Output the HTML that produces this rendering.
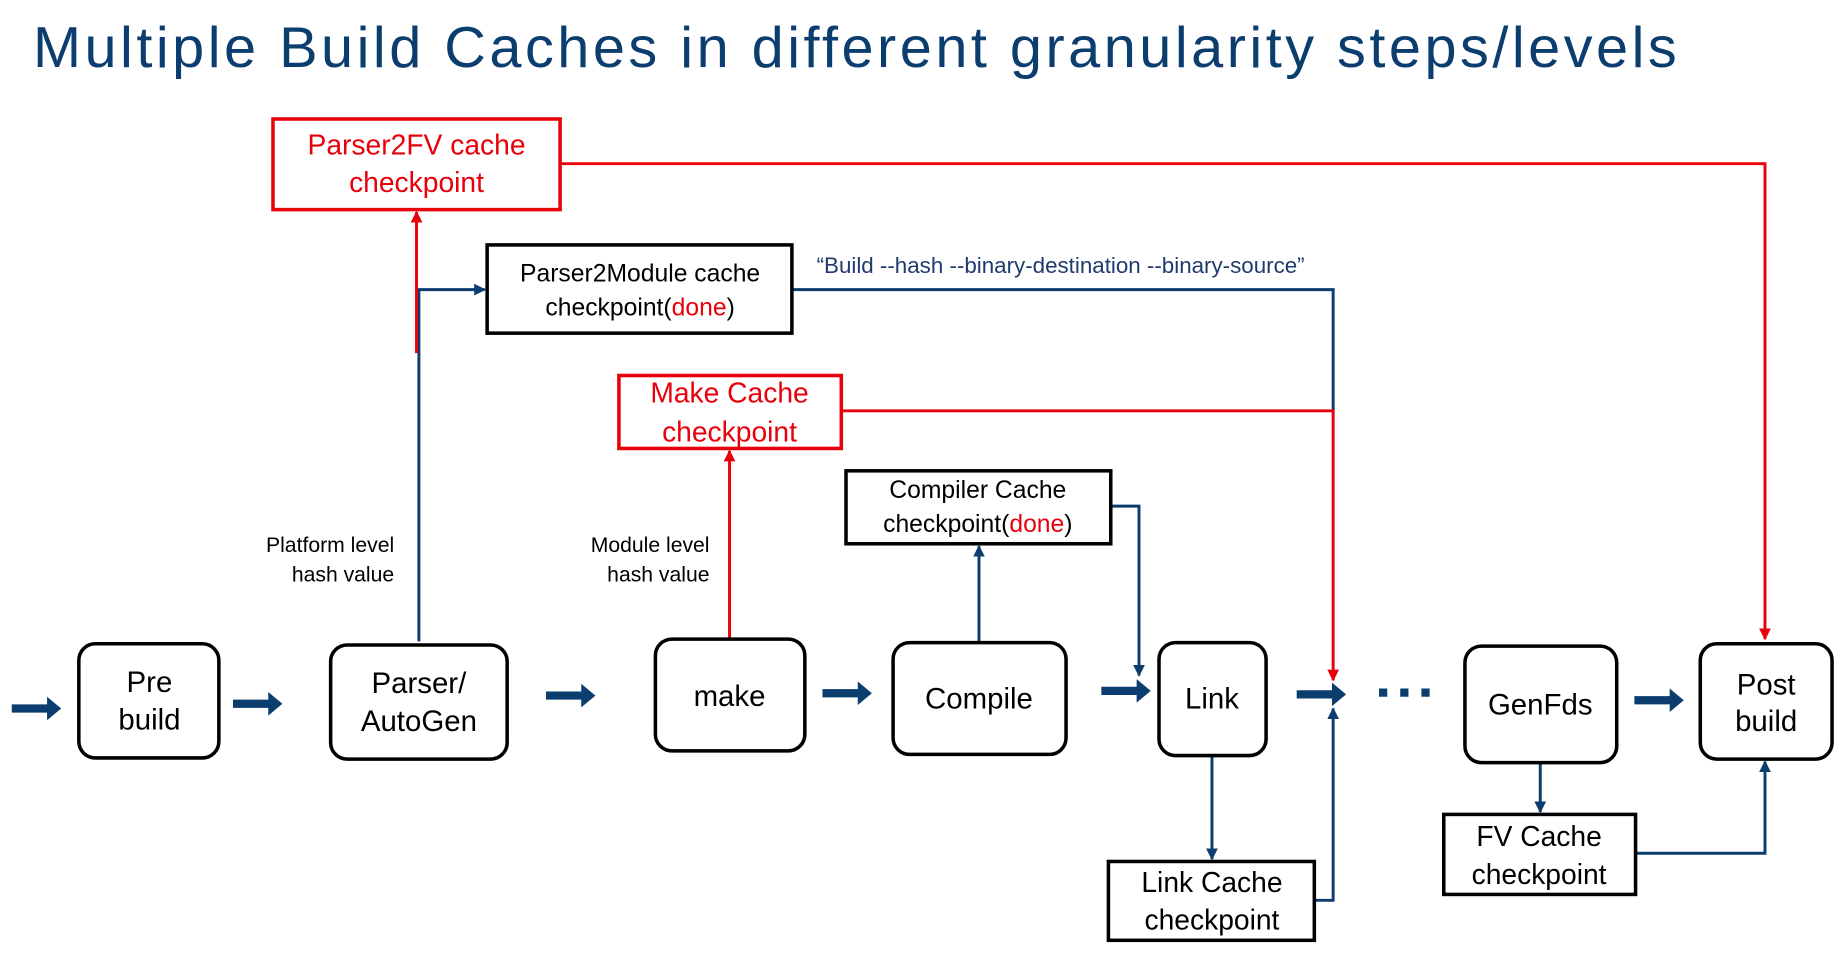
<!DOCTYPE html>
<html><head><meta charset="utf-8"><style>
html,body{margin:0;padding:0;background:#fff;}
svg{display:block;}
text{font-family:"Liberation Sans","DejaVu Sans",sans-serif;}
</style></head><body>
<svg width="1845" height="964" viewBox="0 0 1568 819" xmlns="http://www.w3.org/2000/svg">
<defs>
<marker id="ab" viewBox="0 0 10 10" refX="9" refY="5" markerWidth="4" markerHeight="4" orient="auto-start-reverse"><path d="M0,0 L10,5 L0,10 z" fill="#0b3d6e"/></marker>
<marker id="ar" viewBox="0 0 10 10" refX="9" refY="5" markerWidth="4" markerHeight="4" orient="auto-start-reverse"><path d="M0,0 L10,5 L0,10 z" fill="#e8000b"/></marker>
<g id="blk"><path d="M0,-3.5 H30 V-10 L42,0 L30,10 V3.5 H0 z" fill="#0b3d6e"/></g>
</defs>
<text x="28" y="57" font-size="49" fill="#0b3d6e" textLength="1397">Multiple Build Caches in different granularity steps/levels</text>

<!-- connectors -->
<g fill="none" stroke="#0b3d6e" stroke-width="2.5">
<path d="M356,545 V246 H412" marker-end="url(#ab)"/>
<path d="M673,246 H1133 V350"/>
<path d="M832,545 V464" marker-end="url(#ab)"/>
<path d="M944,430 H968 V574" marker-end="url(#ab)"/>
<path d="M1030,642 V730" marker-end="url(#ab)"/>
<path d="M1117,765 H1133 V602" marker-end="url(#ab)"/>
<path d="M1309,648 V690" marker-end="url(#ab)"/>
<path d="M1390,725 H1500 V647" marker-end="url(#ab)"/>
</g>
<g fill="none" stroke="#e8000b" stroke-width="2.5">
<path d="M476,139 H1500 V543" marker-end="url(#ar)"/>
<path d="M354,300 V180" marker-end="url(#ar)"/>
<path d="M715,349 H1133 V578" marker-end="url(#ar)"/>
<path d="M620,543 V383" marker-end="url(#ar)"/>
</g>

<!-- cache boxes -->
<g fill="#fff" stroke-width="3">
<rect x="232" y="101" width="244" height="77" stroke="#e8000b"/>
<rect x="414" y="208" width="259" height="75" stroke="#000"/>
<rect x="526" y="319" width="189" height="62" stroke="#e8000b"/>
<rect x="719" y="400" width="225" height="62" stroke="#000"/>
<rect x="942" y="732" width="175" height="67" stroke="#000"/>
<rect x="1227" y="692" width="163" height="68" stroke="#000"/>
</g>
<g font-size="24" text-anchor="middle" fill="#e8000b">
<text x="354" y="131">Parser2FV cache</text>
<text x="354" y="163">checkpoint</text>
<text x="620" y="342">Make Cache</text>
<text x="620" y="375">checkpoint</text>
</g>
<g font-size="21" text-anchor="middle" fill="#000">
<text x="544" y="239">Parser2Module cache</text>
<text x="544" y="268">checkpoint(<tspan fill="#e8000b">done</tspan>)</text>
<text x="831" y="423">Compiler Cache</text>
<text x="831" y="452">checkpoint(<tspan fill="#e8000b">done</tspan>)</text>
</g>
<g font-size="24" text-anchor="middle" fill="#000">
<text x="1030" y="758">Link Cache</text>
<text x="1030" y="790">checkpoint</text>
<text x="1308" y="719">FV Cache</text>
<text x="1308" y="751">checkpoint</text>
</g>
<text x="694" y="232" font-size="19" fill="#1f3b6e">“Build --hash --binary-destination --binary-source”</text>
<g font-size="18" text-anchor="end" fill="#000">
<text x="335" y="469">Platform level</text>
<text x="335" y="494">hash value</text>
<text x="603" y="469">Module level</text>
<text x="603" y="494">hash value</text>
</g>

<!-- main boxes -->
<g fill="#fff" stroke="#000" stroke-width="3">
<rect x="67" y="547" width="119" height="97" rx="14"/>
<rect x="281" y="548" width="150" height="97" rx="14"/>
<rect x="557" y="543" width="127" height="95" rx="14"/>
<rect x="759" y="546" width="147" height="95" rx="14"/>
<rect x="985" y="546" width="91" height="96" rx="14"/>
<rect x="1245" y="549" width="129" height="99" rx="14"/>
<rect x="1445" y="547" width="112" height="98" rx="14"/>
</g>
<g font-size="25" text-anchor="middle" fill="#000">
<text x="127" y="588">Pre</text><text x="127" y="620">build</text>
<text x="356" y="589">Parser/</text><text x="356" y="621">AutoGen</text>
<text x="620" y="600">make</text>
<text x="832" y="602">Compile</text>
<text x="1030" y="602">Link</text>
<text x="1309" y="607">GenFds</text>
<text x="1501" y="590">Post</text><text x="1501" y="621">build</text>
</g>

<!-- block arrows -->
<use href="#blk" transform="translate(10,602)"/>
<use href="#blk" transform="translate(198,598)"/>
<use href="#blk" transform="translate(464,591)"/>
<use href="#blk" transform="translate(699,589)"/>
<use href="#blk" transform="translate(936,587)"/>
<use href="#blk" transform="translate(1102,590)"/>
<use href="#blk" transform="translate(1389,595)"/>
<g fill="#0b3d6e">
<rect x="1172" y="585" width="7" height="7"/>
<rect x="1190" y="585" width="7" height="7"/>
<rect x="1208" y="585" width="7" height="7"/>
</g>
</svg>
</body></html>
